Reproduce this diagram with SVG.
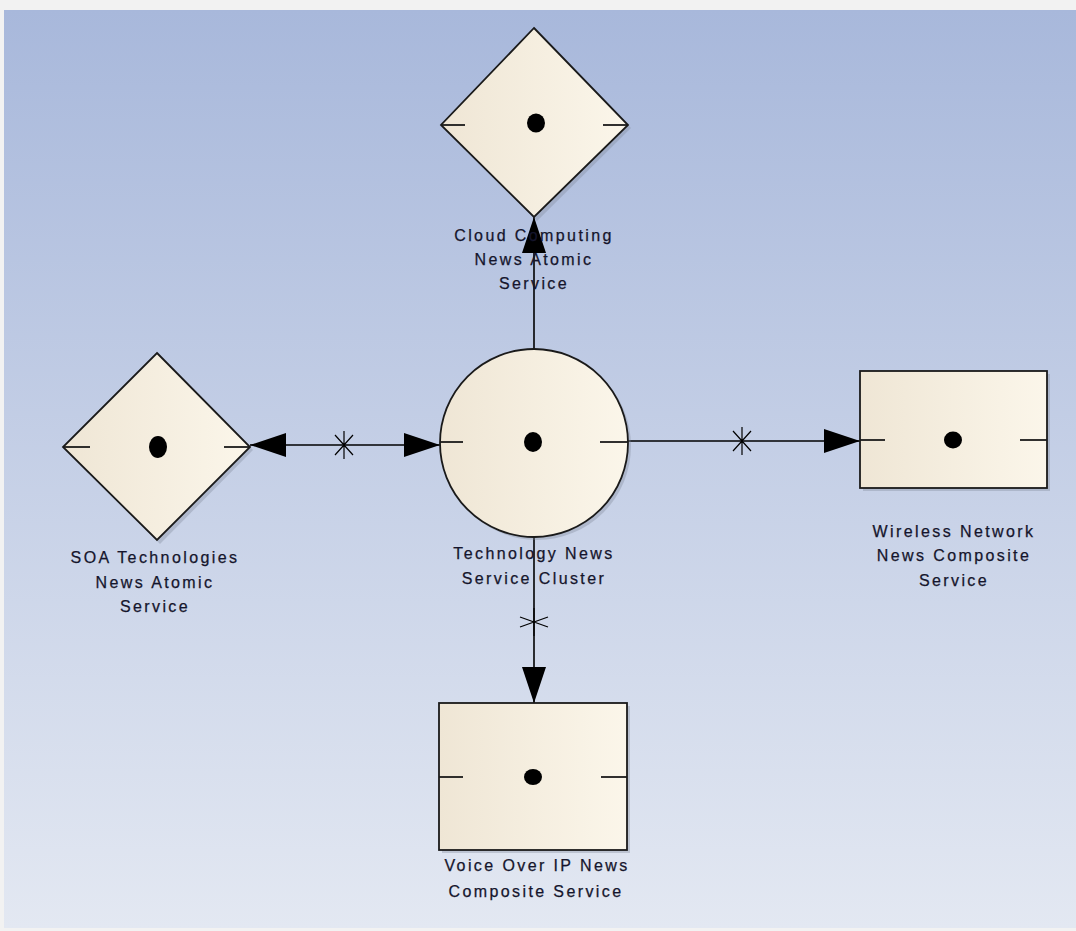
<svg xmlns="http://www.w3.org/2000/svg" width="1076" height="931" viewBox="0 0 1076 931">
<defs>
<linearGradient id="bg" x1="0" y1="0" x2="0" y2="1">
<stop offset="0" stop-color="#A8B8DB"/>
<stop offset="1" stop-color="#E3E8F2"/>
</linearGradient>
<linearGradient id="nf" x1="0" y1="0" x2="1" y2="0">
<stop offset="0" stop-color="#EFE6D5"/>
<stop offset="1" stop-color="#FBF6EA"/>
</linearGradient>
<marker id="ah" viewBox="0 0 36 24" refX="36" refY="12" markerWidth="36" markerHeight="24" markerUnits="userSpaceOnUse" orient="auto-start-reverse">
<path d="M0,0 L36,12 L0,24 Z" fill="#000"/>
</marker>
<style>
.node{fill:url(#nf);stroke:#1a1a1a;stroke-width:1.8}
.shadow{fill:#7f8799;opacity:0.35}
.tick{stroke:#1a1a1a;stroke-width:1.8}
.dot{fill:#000}
.conn{stroke:#000;stroke-width:1.6;fill:none}
.star{stroke:#000;stroke-width:1.2;fill:none}
.lbl{font-family:"Liberation Sans",Arial,sans-serif;font-size:16px;fill:#15152c;text-anchor:middle;letter-spacing:2.4px;stroke:#15152c;stroke-width:0.25}
</style>
</defs>
<rect x="0" y="0" width="1076" height="931" fill="#F2F2F2"/>
<rect x="4" y="10" width="1072" height="918" fill="url(#bg)"/>

<g id="connectors">
<line class="conn" x1="534" y1="349" x2="534" y2="217" marker-end="url(#ah)"/>
<line class="conn" x1="250" y1="445" x2="440" y2="445" marker-start="url(#ah)" marker-end="url(#ah)"/>
<path class="star" d="M344,431 V459 M335,435 L353,455 M353,435 L335,455"/>
<line class="conn" x1="628" y1="441" x2="860" y2="441" marker-end="url(#ah)"/>
<path class="star" d="M742,427 V455 M733,431 L751,451 M751,431 L733,451"/>
<line class="conn" x1="534" y1="537" x2="534" y2="703" marker-end="url(#ah)"/>
<path class="star" d="M534,608 V636 M520,617 L548,627 M548,617 L520,627"/>
</g>

<g id="cloud-computing">
<polygon class="shadow" points="537,31 631,128 537,221 444,128"/>
<polygon class="node" points="534,28 628,125 534,217 441,125"/>
<line class="tick" x1="441" y1="125" x2="465" y2="125"/>
<line class="tick" x1="603" y1="125" x2="628" y2="125"/>
<ellipse class="dot" cx="536" cy="123" rx="9" ry="9.5"/>
<text class="lbl" x="534" y="241">Cloud Computing</text>
<text class="lbl" x="534" y="265">News Atomic</text>
<text class="lbl" x="534" y="289">Service</text>
</g>

<g id="soa-technologies">
<polygon class="shadow" points="160,356 253,450 160,544 66,450"/>
<polygon class="node" points="157,353 250,447 157,540 63,447"/>
<line class="tick" x1="63" y1="447" x2="90" y2="447"/>
<line class="tick" x1="224" y1="447" x2="250" y2="447"/>
<ellipse class="dot" cx="158" cy="447" rx="9" ry="11"/>
<text class="lbl" x="155" y="563">SOA Technologies</text>
<text class="lbl" x="155" y="588">News Atomic</text>
<text class="lbl" x="155" y="612">Service</text>
</g>

<g id="technology-news-cluster">
<ellipse class="shadow" cx="537" cy="446" rx="94" ry="94"/>
<ellipse class="node" cx="534" cy="443" rx="94" ry="94"/>
<line class="tick" x1="440" y1="442" x2="463" y2="442"/>
<line class="tick" x1="600" y1="442" x2="628" y2="442"/>
<ellipse class="dot" cx="533" cy="442" rx="9" ry="10"/>
<text class="lbl" x="534" y="559">Technology News</text>
<text class="lbl" x="534" y="584">Service Cluster</text>
</g>

<g id="wireless-network">
<rect class="shadow" x="863" y="374" width="187" height="117"/>
<rect class="node" x="860" y="371" width="187" height="117"/>
<line class="tick" x1="860" y1="440" x2="885" y2="440"/>
<line class="tick" x1="1020" y1="440" x2="1047" y2="440"/>
<ellipse class="dot" cx="953" cy="440" rx="9" ry="8.5"/>
<text class="lbl" x="954" y="537">Wireless Network</text>
<text class="lbl" x="954" y="561">News Composite</text>
<text class="lbl" x="954" y="586">Service</text>
</g>

<g id="voice-over-ip">
<rect class="shadow" x="442" y="706" width="188" height="147"/>
<rect class="node" x="439" y="703" width="188" height="147"/>
<line class="tick" x1="439" y1="777" x2="463" y2="777"/>
<line class="tick" x1="601" y1="777" x2="627" y2="777"/>
<ellipse class="dot" cx="533" cy="777" rx="9" ry="8"/>
<text class="lbl" x="537" y="871">Voice Over IP News</text>
<text class="lbl" x="536" y="897">Composite Service</text>
</g>
</svg>
